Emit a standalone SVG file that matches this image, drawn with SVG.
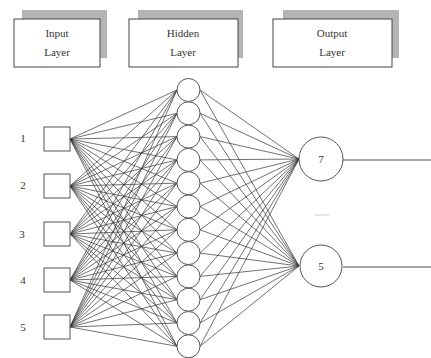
<svg xmlns="http://www.w3.org/2000/svg" width="431" height="358" viewBox="0 0 431 358">
<style>
.shadow{fill:#b4b4b4;}
.box{fill:#fff;stroke:#444;stroke-width:1;}
.t{font-family:"Liberation Serif",serif;font-size:11px;fill:#333;text-anchor:middle;}
.node{fill:#fff;stroke:#555;stroke-width:1;}
.conn{fill:none;stroke:#333;stroke-width:0.7;}
.out{fill:none;stroke:#888;stroke-width:1.5;}
</style>
<rect width="431" height="358" fill="#fff"/>
<g id="hdr-input">
<rect class="shadow" x="22" y="10" width="85" height="48"/>
<rect class="box" x="14" y="19" width="86" height="48"/>
<text class="t" x="57" y="37">Input</text>
<text class="t" x="57" y="56">Layer</text>
</g>
<g id="hdr-hidden">
<rect class="shadow" x="138" y="10" width="105" height="48"/>
<rect class="box" x="129" y="19" width="109" height="48"/>
<text class="t" x="183" y="37">Hidden</text>
<text class="t" x="183" y="56">Layer</text>
</g>
<g id="hdr-output">
<rect class="shadow" x="283" y="10" width="116" height="48"/>
<rect class="box" x="273" y="19" width="119" height="48"/>
<text class="t" x="332" y="37">Output</text>
<text class="t" x="332" y="56">Layer</text>
</g>
<g id="connectors">
<path class="conn" d="M70 139L177 90M70 139L177 113.3M70 139L177 136.6M70 139L177 159.9M70 139L177 183.2M70 139L177 206.5M70 139L177 229.8M70 139L177 253.1M70 139L177 276.4M70 139L177 299.7M70 139L177 323M70 139L177 346.3"/>
<path class="conn" d="M70 186L177 90M70 186L177 113.3M70 186L177 136.6M70 186L177 159.9M70 186L177 183.2M70 186L177 206.5M70 186L177 229.8M70 186L177 253.1M70 186L177 276.4M70 186L177 299.7M70 186L177 323M70 186L177 346.3"/>
<path class="conn" d="M70 234L177 90M70 234L177 113.3M70 234L177 136.6M70 234L177 159.9M70 234L177 183.2M70 234L177 206.5M70 234L177 229.8M70 234L177 253.1M70 234L177 276.4M70 234L177 299.7M70 234L177 323M70 234L177 346.3"/>
<path class="conn" d="M70 280L177 90M70 280L177 113.3M70 280L177 136.6M70 280L177 159.9M70 280L177 183.2M70 280L177 206.5M70 280L177 229.8M70 280L177 253.1M70 280L177 276.4M70 280L177 299.7M70 280L177 323M70 280L177 346.3"/>
<path class="conn" d="M70 327L177 90M70 327L177 113.3M70 327L177 136.6M70 327L177 159.9M70 327L177 183.2M70 327L177 206.5M70 327L177 229.8M70 327L177 253.1M70 327L177 276.4M70 327L177 299.7M70 327L177 323M70 327L177 346.3"/>
<path class="conn" d="M200 90L299 159M200 113.3L299 159M200 136.6L299 159M200 159.9L299 159M200 183.2L299 159M200 206.5L299 159M200 229.8L299 159M200 253.1L299 159M200 276.4L299 159M200 299.7L299 159M200 323L299 159M200 346.3L299 159"/>
<path class="conn" d="M200 90L299 266M200 113.3L299 266M200 136.6L299 266M200 159.9L299 266M200 183.2L299 266M200 206.5L299 266M200 229.8L299 266M200 253.1L299 266M200 276.4L299 266M200 299.7L299 266M200 323L299 266M200 346.3L299 266"/>
<path class="out" d="M343 160H431M343 267H431"/>
</g>
<g id="input-1"><rect class="node" x="44" y="127" width="26" height="24"/><text class="t" x="23" y="142">1</text></g>
<g id="input-2"><rect class="node" x="44" y="174" width="26" height="24"/><text class="t" x="23" y="189">2</text></g>
<g id="input-3"><rect class="node" x="44" y="222" width="26" height="24"/><text class="t" x="22" y="238">3</text></g>
<g id="input-4"><rect class="node" x="44" y="268" width="26" height="24"/><text class="t" x="23" y="284">4</text></g>
<g id="input-5"><rect class="node" x="44" y="315" width="26" height="24"/><text class="t" x="23" y="331">5</text></g>
<g id="hidden-1"><circle class="node" cx="188.5" cy="90" r="11.5"/></g>
<g id="hidden-2"><circle class="node" cx="188.5" cy="113.3" r="11.5"/></g>
<g id="hidden-3"><circle class="node" cx="188.5" cy="136.6" r="11.5"/></g>
<g id="hidden-4"><circle class="node" cx="188.5" cy="159.9" r="11.5"/></g>
<g id="hidden-5"><circle class="node" cx="188.5" cy="183.2" r="11.5"/></g>
<g id="hidden-6"><circle class="node" cx="188.5" cy="206.5" r="11.5"/></g>
<g id="hidden-7"><circle class="node" cx="188.5" cy="229.8" r="11.5"/></g>
<g id="hidden-8"><circle class="node" cx="188.5" cy="253.1" r="11.5"/></g>
<g id="hidden-9"><circle class="node" cx="188.5" cy="276.4" r="11.5"/></g>
<g id="hidden-10"><circle class="node" cx="188.5" cy="299.7" r="11.5"/></g>
<g id="hidden-11"><circle class="node" cx="188.5" cy="323" r="11.5"/></g>
<g id="hidden-12"><circle class="node" cx="188.5" cy="346.3" r="11.5"/></g>
<g id="output-1"><circle class="node" cx="321" cy="159" r="22"/><text class="t" x="321" y="163">7</text></g>
<g id="output-2"><circle class="node" cx="321" cy="266" r="21"/><text class="t" x="321" y="270">5</text></g>
<line x1="315" y1="215" x2="329" y2="215" stroke="#ccc" stroke-width="1"/>
</svg>
